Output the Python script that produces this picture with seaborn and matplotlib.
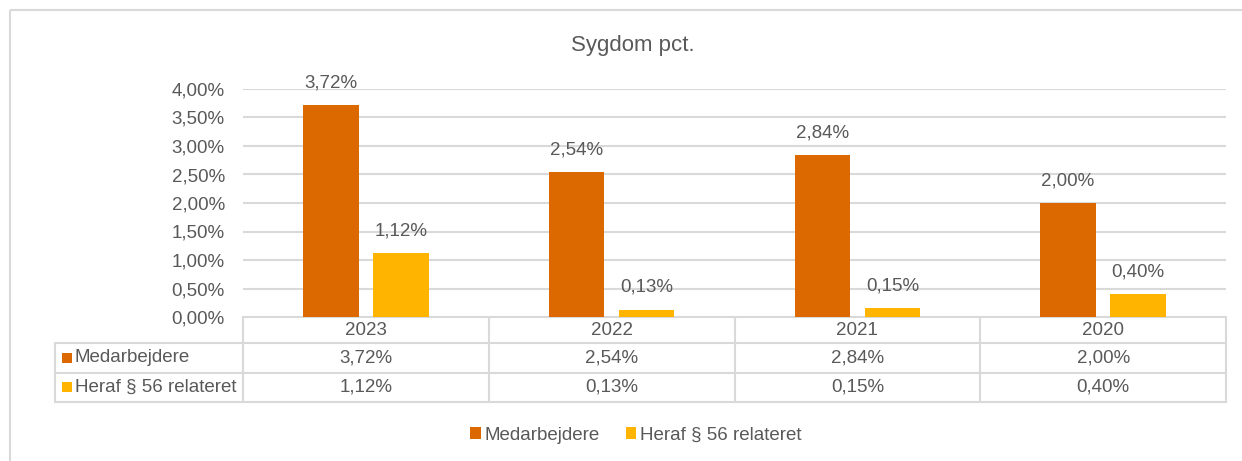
import matplotlib
matplotlib.use("Agg")
import matplotlib.pyplot as plt
import seaborn as sns
import pandas as pd
from matplotlib.patches import Patch, Rectangle

# ---- data ----
years = ["2023", "2022", "2021", "2020"]
series_names = ["Medarbejdere", "Heraf § 56 relateret"]
medarbejdere = [3.72, 2.54, 2.84, 2.00]
heraf = [1.12, 0.13, 0.15, 0.40]
yticks = [0.0, 0.5, 1.0, 1.5, 2.0, 2.5, 3.0, 3.5, 4.0]
title = "Sygdom pct."

colors = ["#DC6900", "#FFB400"]
txt = "#595959"
grid = "#D9D9D9"
FS = 13.5

def fmt(v):
    return f"{v:.2f}".replace(".", ",") + "%"

df = pd.DataFrame({
    "year": years * 2,
    "series": [series_names[0]] * 4 + [series_names[1]] * 4,
    "value": medarbejdere + heraf,
})

sns.set_theme(style="white")
plt.rcParams["font.family"] = ["Liberation Sans", "DejaVu Sans"]

W, H = 1242, 461
fig = plt.figure(figsize=(W / 100, H / 100), dpi=100)
fig.patch.set_facecolor("white")

ax = fig.add_axes([243 / W, 1 - 317 / H, (1226 - 243) / W, (317 - 89) / H])
sns.barplot(data=df, x="year", y="value", hue="series", order=years,
            hue_order=series_names, palette=colors, width=0.57, gap=0.21,
            saturation=1, ax=ax, legend=False)
ax.set_xlim(-0.5, len(years) - 0.5)
ax.set_ylim(0, 4.0)
ax.set_yticks(yticks)
ax.set_yticklabels([fmt(t) for t in yticks], color=txt, fontsize=FS)
ax.set_xticks([])
ax.set_xlabel("")
ax.set_ylabel("")
ax.tick_params(axis="y", length=0, pad=13)
for s in ax.spines.values():
    s.set_visible(False)
ax.yaxis.grid(True, color=grid, linewidth=1.5)
ax.set_axisbelow(True)

vals = [medarbejdere, heraf]
for cont, v in zip(ax.containers, vals):
    for p in cont.patches:
        p.set_edgecolor("none")
    ax.bar_label(cont, labels=[fmt(x) for x in v], padding=10, color=txt, fontsize=FS)

# ---- overlay for table, title, border ----
ov = fig.add_axes([0, 0, 1, 1], zorder=-1)
ov.set_xlim(0, W)
ov.set_ylim(H, 0)
ov.axis("off")

ov.add_patch(Rectangle((10, 10), W + 20, H + 20, fill=False, edgecolor=grid, linewidth=1.5))
ov.text(633, 45, title, ha="center", va="center", fontsize=16, color=txt)

def to_px(xd):
    return ax.transData.transform((xd, 0))[0]

bounds = [to_px(i - 0.5) for i in range(len(years) + 1)]
centers = [to_px(i) for i in range(len(years))]
x_left = 55
y_top, y_h, y_r1, y_r2 = 317, 343, 372.5, 402
lw = 1.5
ov.plot([bounds[0], bounds[-1]], [y_top, y_top], color=grid, lw=lw)
for yy in (y_h, y_r1, y_r2):
    ov.plot([x_left, bounds[-1]], [yy, yy], color=grid, lw=lw)
ov.plot([x_left, x_left], [y_h, y_r2], color=grid, lw=lw)
for b in bounds:
    ov.plot([b, b], [y_top, y_r2], color=grid, lw=lw)

for c, yr in zip(centers, years):
    ov.text(c, (y_top + y_h) / 2, yr, ha="center", va="center", fontsize=FS, color=txt)
rows_y = [(y_h + y_r1) / 2, (y_r1 + y_r2) / 2]
for name, col, v, ry in zip(series_names, colors, vals, rows_y):
    ov.add_patch(Rectangle((62, ry - 5), 10, 10, facecolor=col, edgecolor="none"))
    ov.text(75, ry, name, ha="left", va="center", fontsize=FS, color=txt)
    for c, x in zip(centers, v):
        ov.text(c, ry, fmt(x), ha="center", va="center", fontsize=FS, color=txt)

handles = [Patch(facecolor=c, edgecolor="none", label=n) for c, n in zip(colors, series_names)]
fig.legend(handles=handles, loc="center", bbox_to_anchor=(636 / W, 1 - 435 / H), ncol=2,
           frameon=False, fontsize=FS, labelcolor=txt, handlelength=0.55, handleheight=0.55,
           handletextpad=0.2, columnspacing=1.4)

fig.savefig("out.png", dpi=100, facecolor="white")
